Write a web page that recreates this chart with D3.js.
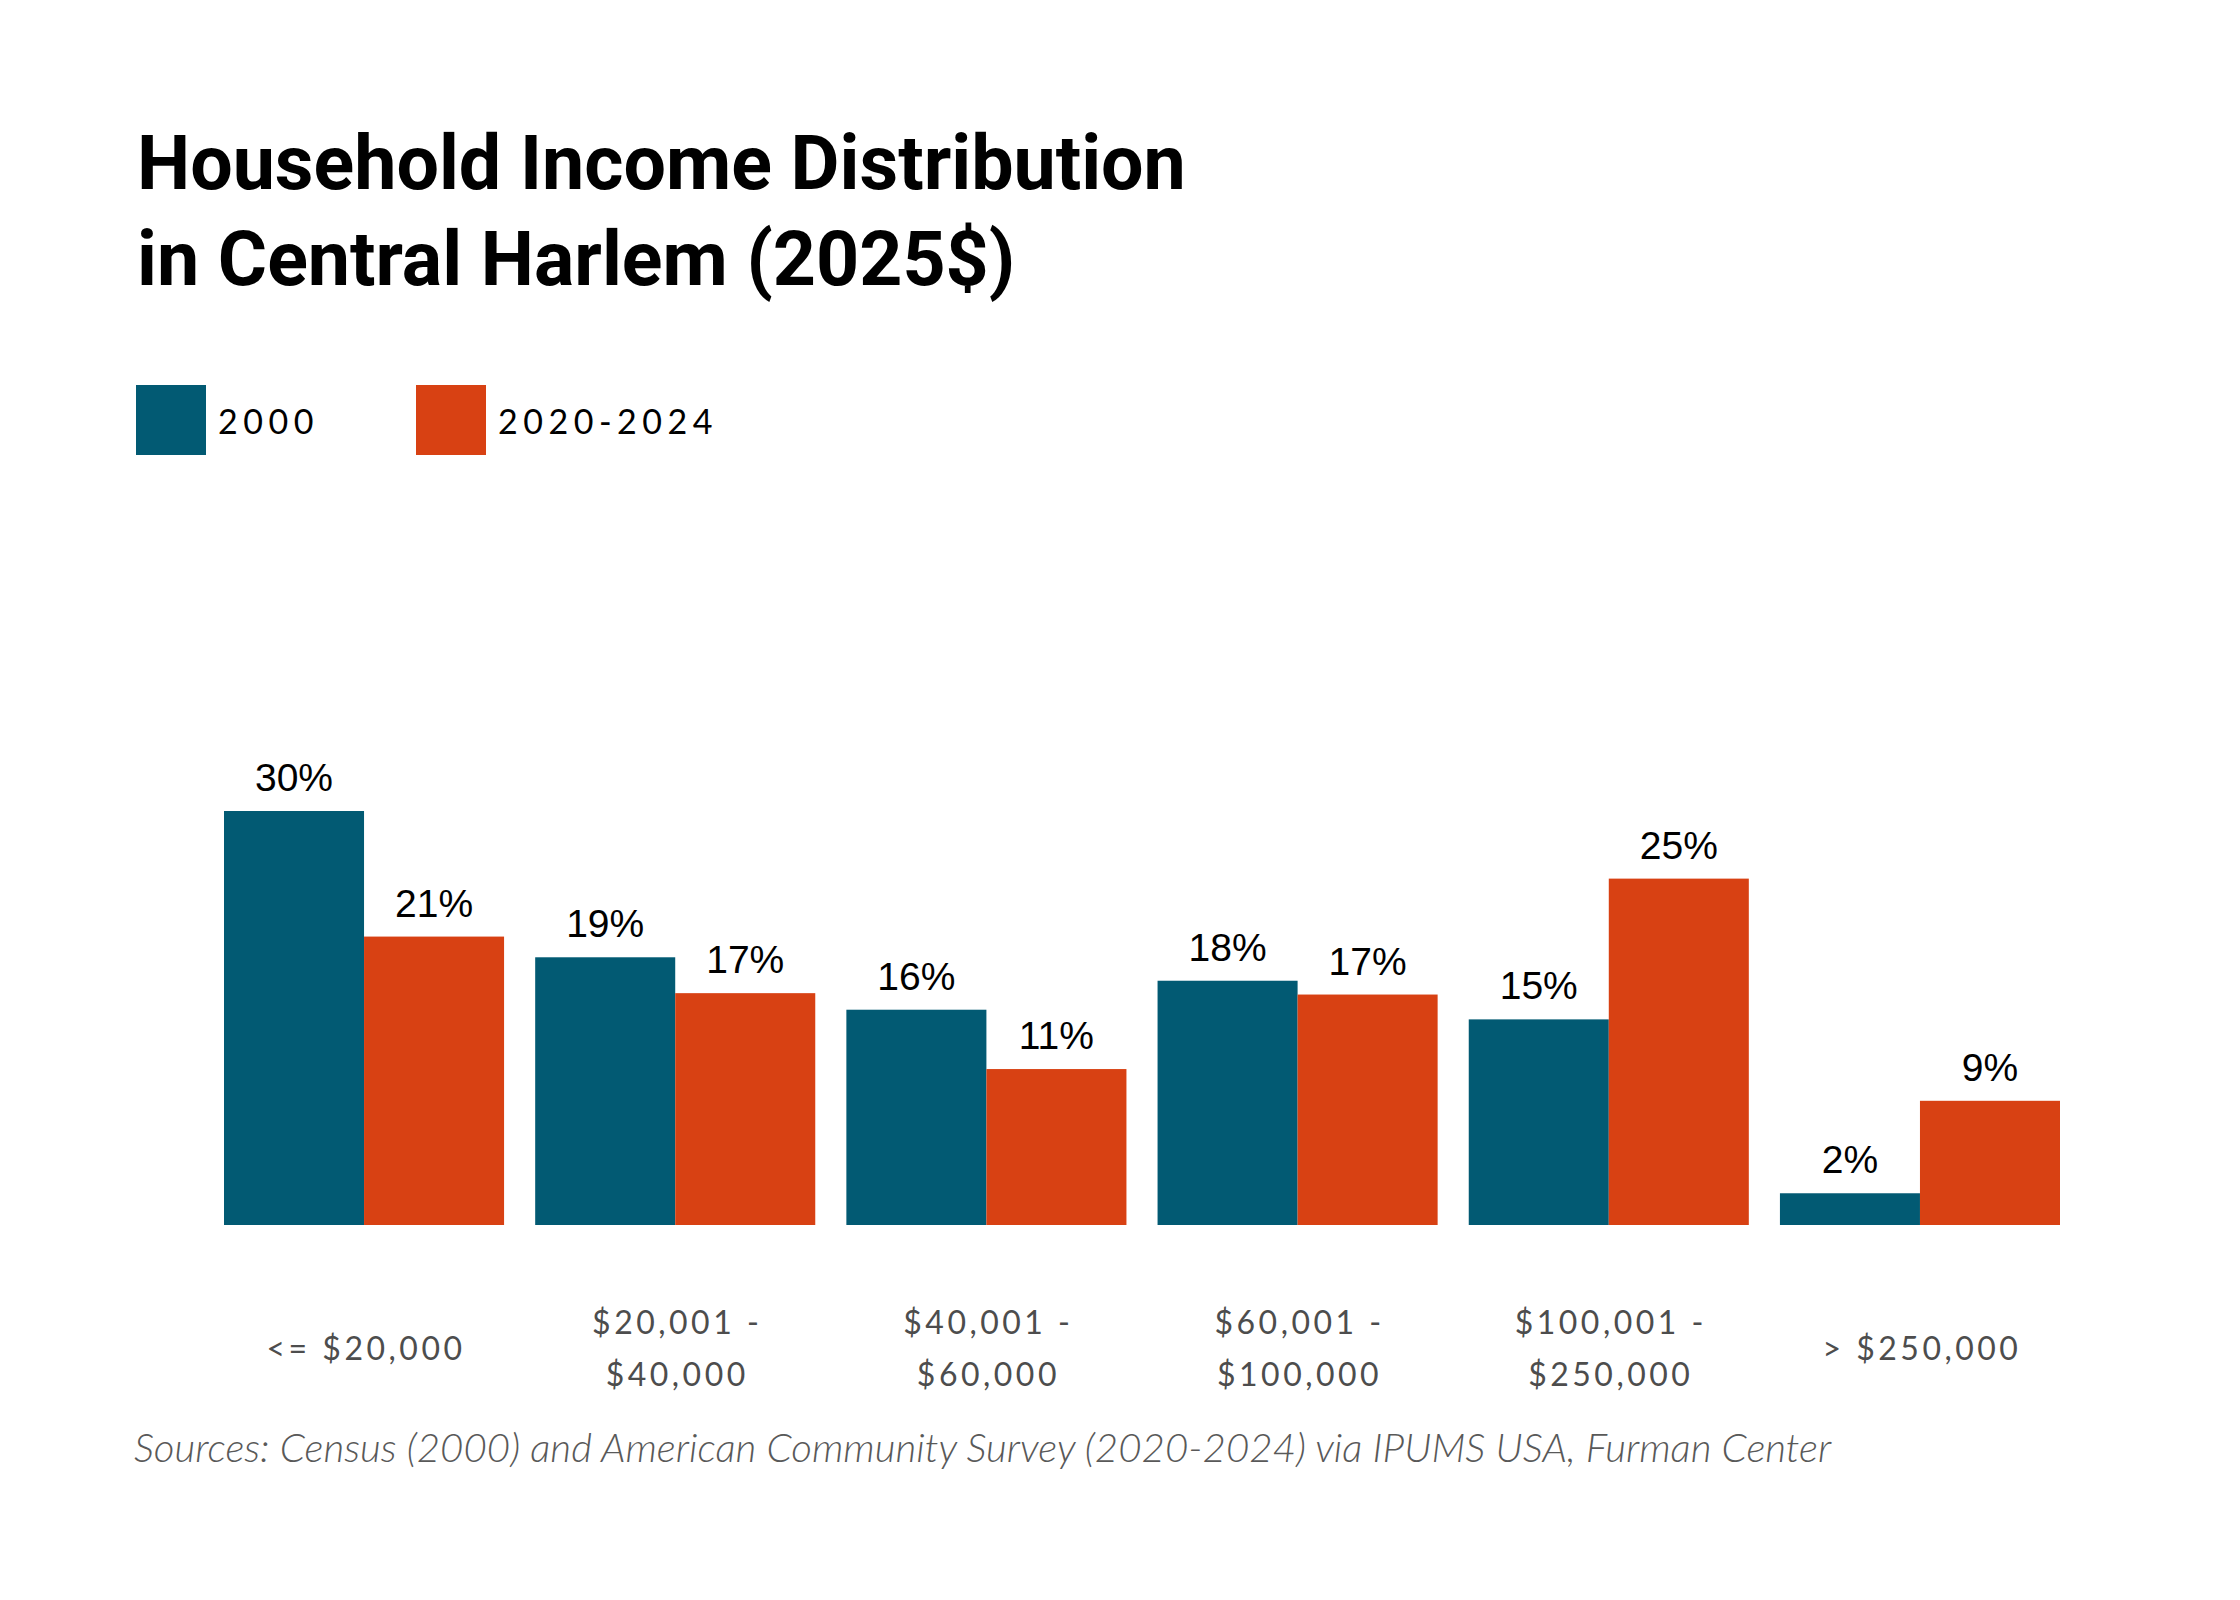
<!DOCTYPE html>
<html>
<head>
<meta charset="utf-8">
<script src="https://cdn.jsdelivr.net/npm/d3@7"></script>
<style>
  body { margin: 0; background: #fff; }
  svg { display: block; }
  .title { font-family: Roboto, "Noto Sans", sans-serif; font-weight: 700; fill: #000; }
  .legendText { font-family: Lato, "Open Sans", sans-serif; fill: #000; letter-spacing: 5.5px; }
  .valueText { font-family: "Liberation Sans", Arial, sans-serif; fill: #000; }
  .catText { font-family: Lato, "Open Sans", sans-serif; fill: #4d4d4d; letter-spacing: 3.5px; }
  .sourceText { font-family: Lato, "Open Sans", sans-serif; font-style: italic; font-weight: 300; fill: #595959; }
</style>
</head>
<body>
<div id="chart"></div>
<script>

/* data */
var categories = ["<= $20,000", "$20,001 - $40,000", "$40,001 - $60,000", "$60,001 - $100,000", "$100,001 - $250,000", "> $250,000"]
var catLines = [["<= $20,000"], ["$20,001 -", "$40,000"], ["$40,001 -", "$60,000"], ["$60,001 -", "$100,000"], ["$100,001 -", "$250,000"], ["> $250,000"]]
var seriesNames = ["2000", "2020-2024"]
var values2000 = [30.0, 19.4, 15.6, 17.7, 14.9, 2.3]
var values2020 = [20.9, 16.8, 11.3, 16.7, 25.1, 9.0]
var titleLines = ["Household Income Distribution", "in Central Harlem (2025$)"]
var sourceText = "Sources: Census (2000) and American Community Survey (2020-2024) via IPUMS USA, Furman Center"

var colors = { "2000": "#025a73", "2020-2024": "#d84113" }

var layout = {
  width: 2240,
  height: 1600,
  left: 136,
  plotLeft: 224,
  plotRight: 2060,
  baseY: 1225,
  topY: 811,
  yMax: 30,
  valueYadj: 20,
  catLineY1: 1334,
  catLineY2: 1386,
  catSingleY: 1360
}

var svg = d3.select("#chart")
  .append("svg")
  .attr("width", layout.width)
  .attr("height", layout.height)

svg.append("rect")
  .attr("width", layout.width)
  .attr("height", layout.height)
  .attr("fill", "#fff")

/* fit a text element to a target width */
function fitWidth(sel, target) {
  var w = sel.node().getComputedTextLength()
  var fs = parseFloat(sel.style("font-size"))
  sel.style("font-size", (fs * target / w) + "px")
}

/* title */
var t1 = svg.append("text")
  .attr("class", "title")
  .attr("x", layout.left + 1)
  .attr("y", 189)
  .style("font-size", "67px")
  .text(titleLines[0])
fitWidth(t1, 1049)
var t2 = svg.append("text")
  .attr("class", "title")
  .attr("x", layout.left + 1)
  .attr("y", 285)
  .style("font-size", t1.style("font-size"))
  .text(titleLines[1])

/* legend */
var legendX = [136, 416]
seriesNames.forEach(function(name, i) {
  svg.append("rect")
    .attr("x", legendX[i])
    .attr("y", 385)
    .attr("width", 70)
    .attr("height", 70)
    .attr("fill", colors[name])
  svg.append("text")
    .attr("class", "legendText")
    .attr("x", legendX[i] + 82)
    .attr("y", 434)
    .style("font-size", "34px")
    .text(name)
})

/* scales */
var x0 = d3.scaleBand()
  .domain(categories)
  .range([layout.plotLeft, layout.plotRight])
  .paddingInner(0.1)
  .paddingOuter(0)
var x1 = d3.scaleBand()
  .domain(seriesNames)
  .range([0, x0.bandwidth()])
var yScale = d3.scaleLinear()
  .domain([0, layout.yMax])
  .range([layout.baseY, layout.topY])

var rows = categories.map(function(c, i) {
  return { cat: c, lines: catLines[i], vals: [
    { series: "2000", v: values2000[i] },
    { series: "2020-2024", v: values2020[i] }
  ] }
})

/* bars */
var groups = svg.selectAll(".group")
  .data(rows)
  .enter()
  .append("g")
  .attr("class", "group")
  .attr("transform", function(d) { return "translate(" + x0(d.cat) + ",0)" })

groups.selectAll("rect")
  .data(function(d) { return d.vals })
  .enter()
  .append("rect")
  .attr("x", function(d) { return x1(d.series) })
  .attr("y", function(d) { return yScale(d.v) })
  .attr("width", x1.bandwidth())
  .attr("height", function(d) { return layout.baseY - yScale(d.v) })
  .attr("fill", function(d) { return colors[d.series] })

groups.selectAll(".valueText")
  .data(function(d) { return d.vals })
  .enter()
  .append("text")
  .attr("class", "valueText")
  .attr("x", function(d) { return x1(d.series) + x1.bandwidth() / 2 })
  .attr("y", function(d) { return yScale(d.v) - layout.valueYadj })
  .attr("text-anchor", "middle")
  .style("font-size", "39px")
  .text(function(d) { return Math.round(d.v) + "%" })

/* category labels */
groups.each(function(d) {
  var g = d3.select(this)
  var cx = x0.bandwidth() / 2 + 2
  if (d.lines.length == 1) {
    g.append("text")
      .attr("class", "catText")
      .attr("x", cx)
      .attr("y", layout.catSingleY)
      .attr("text-anchor", "middle")
      .style("font-size", "32px")
      .text(d.lines[0])
  }
  else {
    d.lines.forEach(function(line, j) {
      g.append("text")
        .attr("class", "catText")
        .attr("x", cx)
        .attr("y", j == 0 ? layout.catLineY1 : layout.catLineY2)
        .attr("text-anchor", "middle")
        .style("font-size", "32px")
        .text(line)
    })
  }
})

/* source */
var src = svg.append("text")
  .attr("class", "sourceText")
  .attr("x", 134)
  .attr("y", 1462)
  .style("font-size", "35px")
  .text(sourceText)
fitWidth(src, 1698)

</script>
</body>
</html>
